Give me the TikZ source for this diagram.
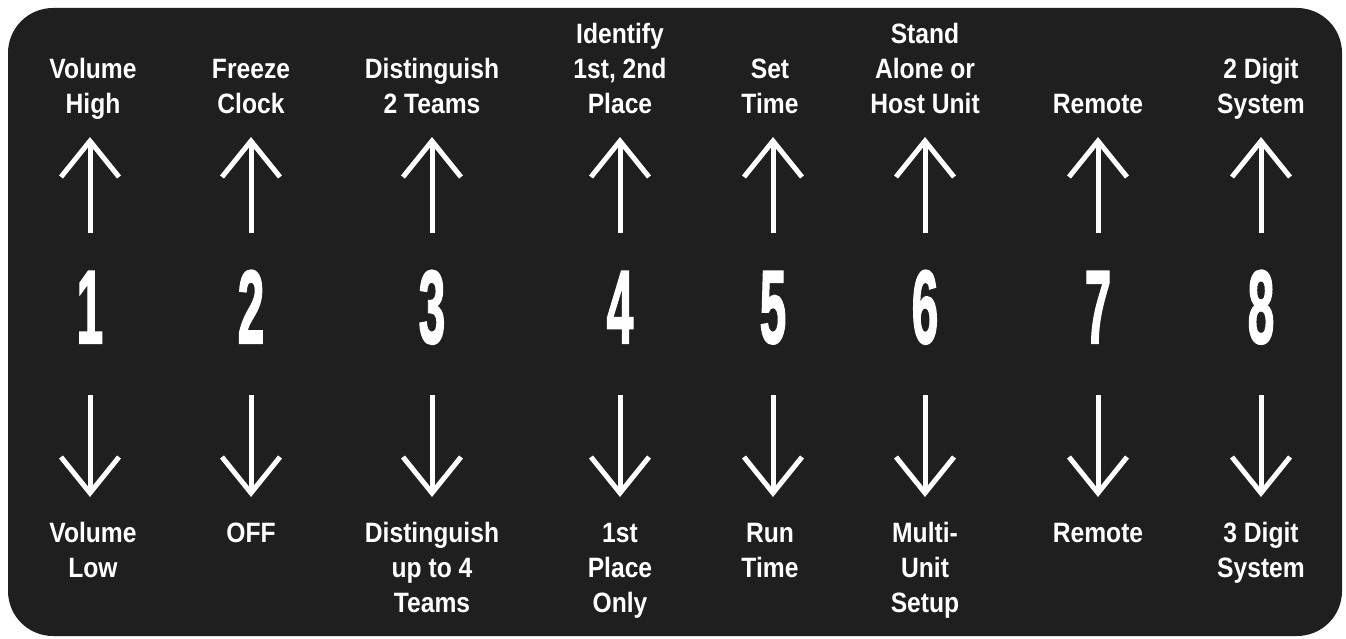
\documentclass[tikz,border=0pt]{standalone}
\usepackage{fontspec}
\setmainfont{Liberation Sans}
\newfontfamily\lblfamily{Liberation Sans}
\newfontfamily\digfamily[FakeBold=2]{Liberation Sans}
\newcommand{\lblfont}{\lblfamily\bfseries\fontsize{28}{35}\selectfont}
\newcommand{\digfont}{\digfamily\bfseries\fontsize{104}{110}\selectfont}
\definecolor{panel}{HTML}{1F1F1F}
\tikzset{
  lbl/.style={text=white, font=\lblfont, xscale=0.88, anchor=base, inner sep=0pt},
  dig/.style={text=white, font=\digfont, xscale=0.46, anchor=base, inner sep=0pt},
  arrowline/.style={draw=white, line width=5pt, line join=miter, line cap=butt}
}
\begin{document}
\begin{tikzpicture}[x=1pt,y=-1pt]
\useasboundingbox (0,0) rectangle (1346,639);
\fill[white] (0,0) rectangle (1346,639);
\fill[panel, rounded corners=45pt] (8,8) rectangle (1342,636);

% digits and arrows
\foreach \x/\d in {90/1,251/2,432/3,620/4,773/5,925/6,1098/7,1261/8}{
  \node[dig] (n\d) at (\x,343) {\d};
  \coordinate (ua\d) at (\x,233);
  \coordinate (ut\d) at (\x,141);
  \draw[arrowline] (ua\d) -- (ut\d);
  \draw[arrowline] (ut\d) ++(-29,36) -- (ut\d) -- ++(29,36);
  \coordinate (da\d) at (\x,395);
  \coordinate (dt\d) at (\x,493);
  \draw[arrowline] (da\d) -- (dt\d);
  \draw[arrowline] (dt\d) ++(-29,-36) -- (dt\d) -- ++(29,-36);
}

% top labels
\node[lbl] (t1a) at (93,79) {Volume};
\node[lbl] (t1b) at (93,114) {High};
\node[lbl] (t2a) at (251,79) {Freeze};
\node[lbl] (t2b) at (251,114) {Clock};
\node[lbl] (t3a) at (432,79) {Distinguish};
\node[lbl] (t3b) at (432,114) {2 Teams};
\node[lbl] (t4a) at (620,44) {Identify};
\node[lbl] (t4b) at (620,79) {1st, 2nd};
\node[lbl] (t4c) at (620,114) {Place};
\node[lbl] (t5a) at (770,79) {Set};
\node[lbl] (t5b) at (770,114) {Time};
\node[lbl] (t6a) at (925,44) {Stand};
\node[lbl] (t6b) at (925,79) {Alone or};
\node[lbl] (t6c) at (925,114) {Host Unit};
\node[lbl] (t7a) at (1098,114) {Remote};
\node[lbl] (t8a) at (1261,79) {2 Digit};
\node[lbl] (t8b) at (1261,114) {System};

% bottom labels
\node[lbl] (b1a) at (93,542) {Volume};
\node[lbl] (b1b) at (93,577) {Low};
\node[lbl] (b2a) at (251,542) {OFF};
\node[lbl] (b3a) at (432,542) {Distinguish};
\node[lbl] (b3b) at (432,577) {up to 4};
\node[lbl] (b3c) at (432,612) {Teams};
\node[lbl] (b4a) at (620,542) {1st};
\node[lbl] (b4b) at (620,577) {Place};
\node[lbl] (b4c) at (620,612) {Only};
\node[lbl] (b5a) at (770,542) {Run};
\node[lbl] (b5b) at (770,577) {Time};
\node[lbl] (b6a) at (925,542) {Multi-};
\node[lbl] (b6b) at (925,577) {Unit};
\node[lbl] (b6c) at (925,612) {Setup};
\node[lbl] (b7a) at (1098,542) {Remote};
\node[lbl] (b8a) at (1261,542) {3 Digit};
\node[lbl] (b8b) at (1261,577) {System};
\end{tikzpicture}
\end{document}
